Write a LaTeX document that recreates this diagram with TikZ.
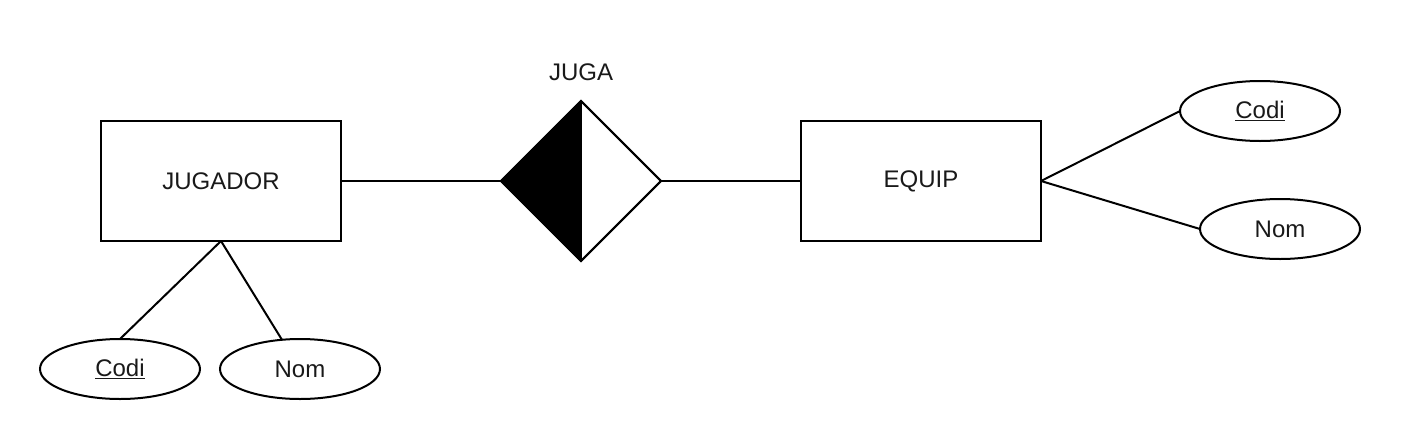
\documentclass[tikz,border=0pt]{standalone}
\usepackage{fontspec}
\setmainfont{Liberation Sans}
\usetikzlibrary{shapes.geometric}
\begin{document}
\begin{tikzpicture}[x=1pt,y=-1pt,line width=2pt,
  every node/.style={font=\fontsize{24}{28}\selectfont,text=black!90},
  entity/.style={draw=black,rectangle,minimum width=240pt,minimum height=120pt,inner sep=0pt,outer sep=0pt},
  attr/.style={draw=black,ellipse,minimum width=160pt,minimum height=60pt,inner sep=0pt,outer sep=0pt},
  rel/.style={draw=black,diamond,minimum width=160pt,minimum height=160pt,inner sep=0pt,outer sep=0pt}]
\useasboundingbox (0,0) rectangle (1402,442);
\node[entity] (jugador) at (221,181) {JUGADOR};
\node[entity] (equip) at (921,181) {EQUIP};
\node[rel] (juga) at (581,181) {};
\fill[black] (juga.west) -- (juga.north) -- (juga.south) -- cycle;
\draw (juga.west) -- (juga.north) -- (juga.east) -- (juga.south) -- cycle;
\draw (juga.north) -- (juga.south);
\node (jugalabel) at (581,72) {JUGA};
\node[attr] (codi1) at (120,369) {\underline{Codi}};
\node[attr] (nom1) at (300,369) {Nom};
\node[attr] (codi2) at (1260,111) {\underline{Codi}};
\node[attr] (nom2) at (1280,229) {Nom};
\draw (jugador.east) -- (juga.west);
\draw (juga.east) -- (equip.west);
\draw (jugador.south) -- (codi1.north);
\draw (jugador.south) -- (nom1);
\draw (equip.east) -- (codi2.west);
\draw (equip.east) -- (nom2.west);
\end{tikzpicture}
\end{document}
